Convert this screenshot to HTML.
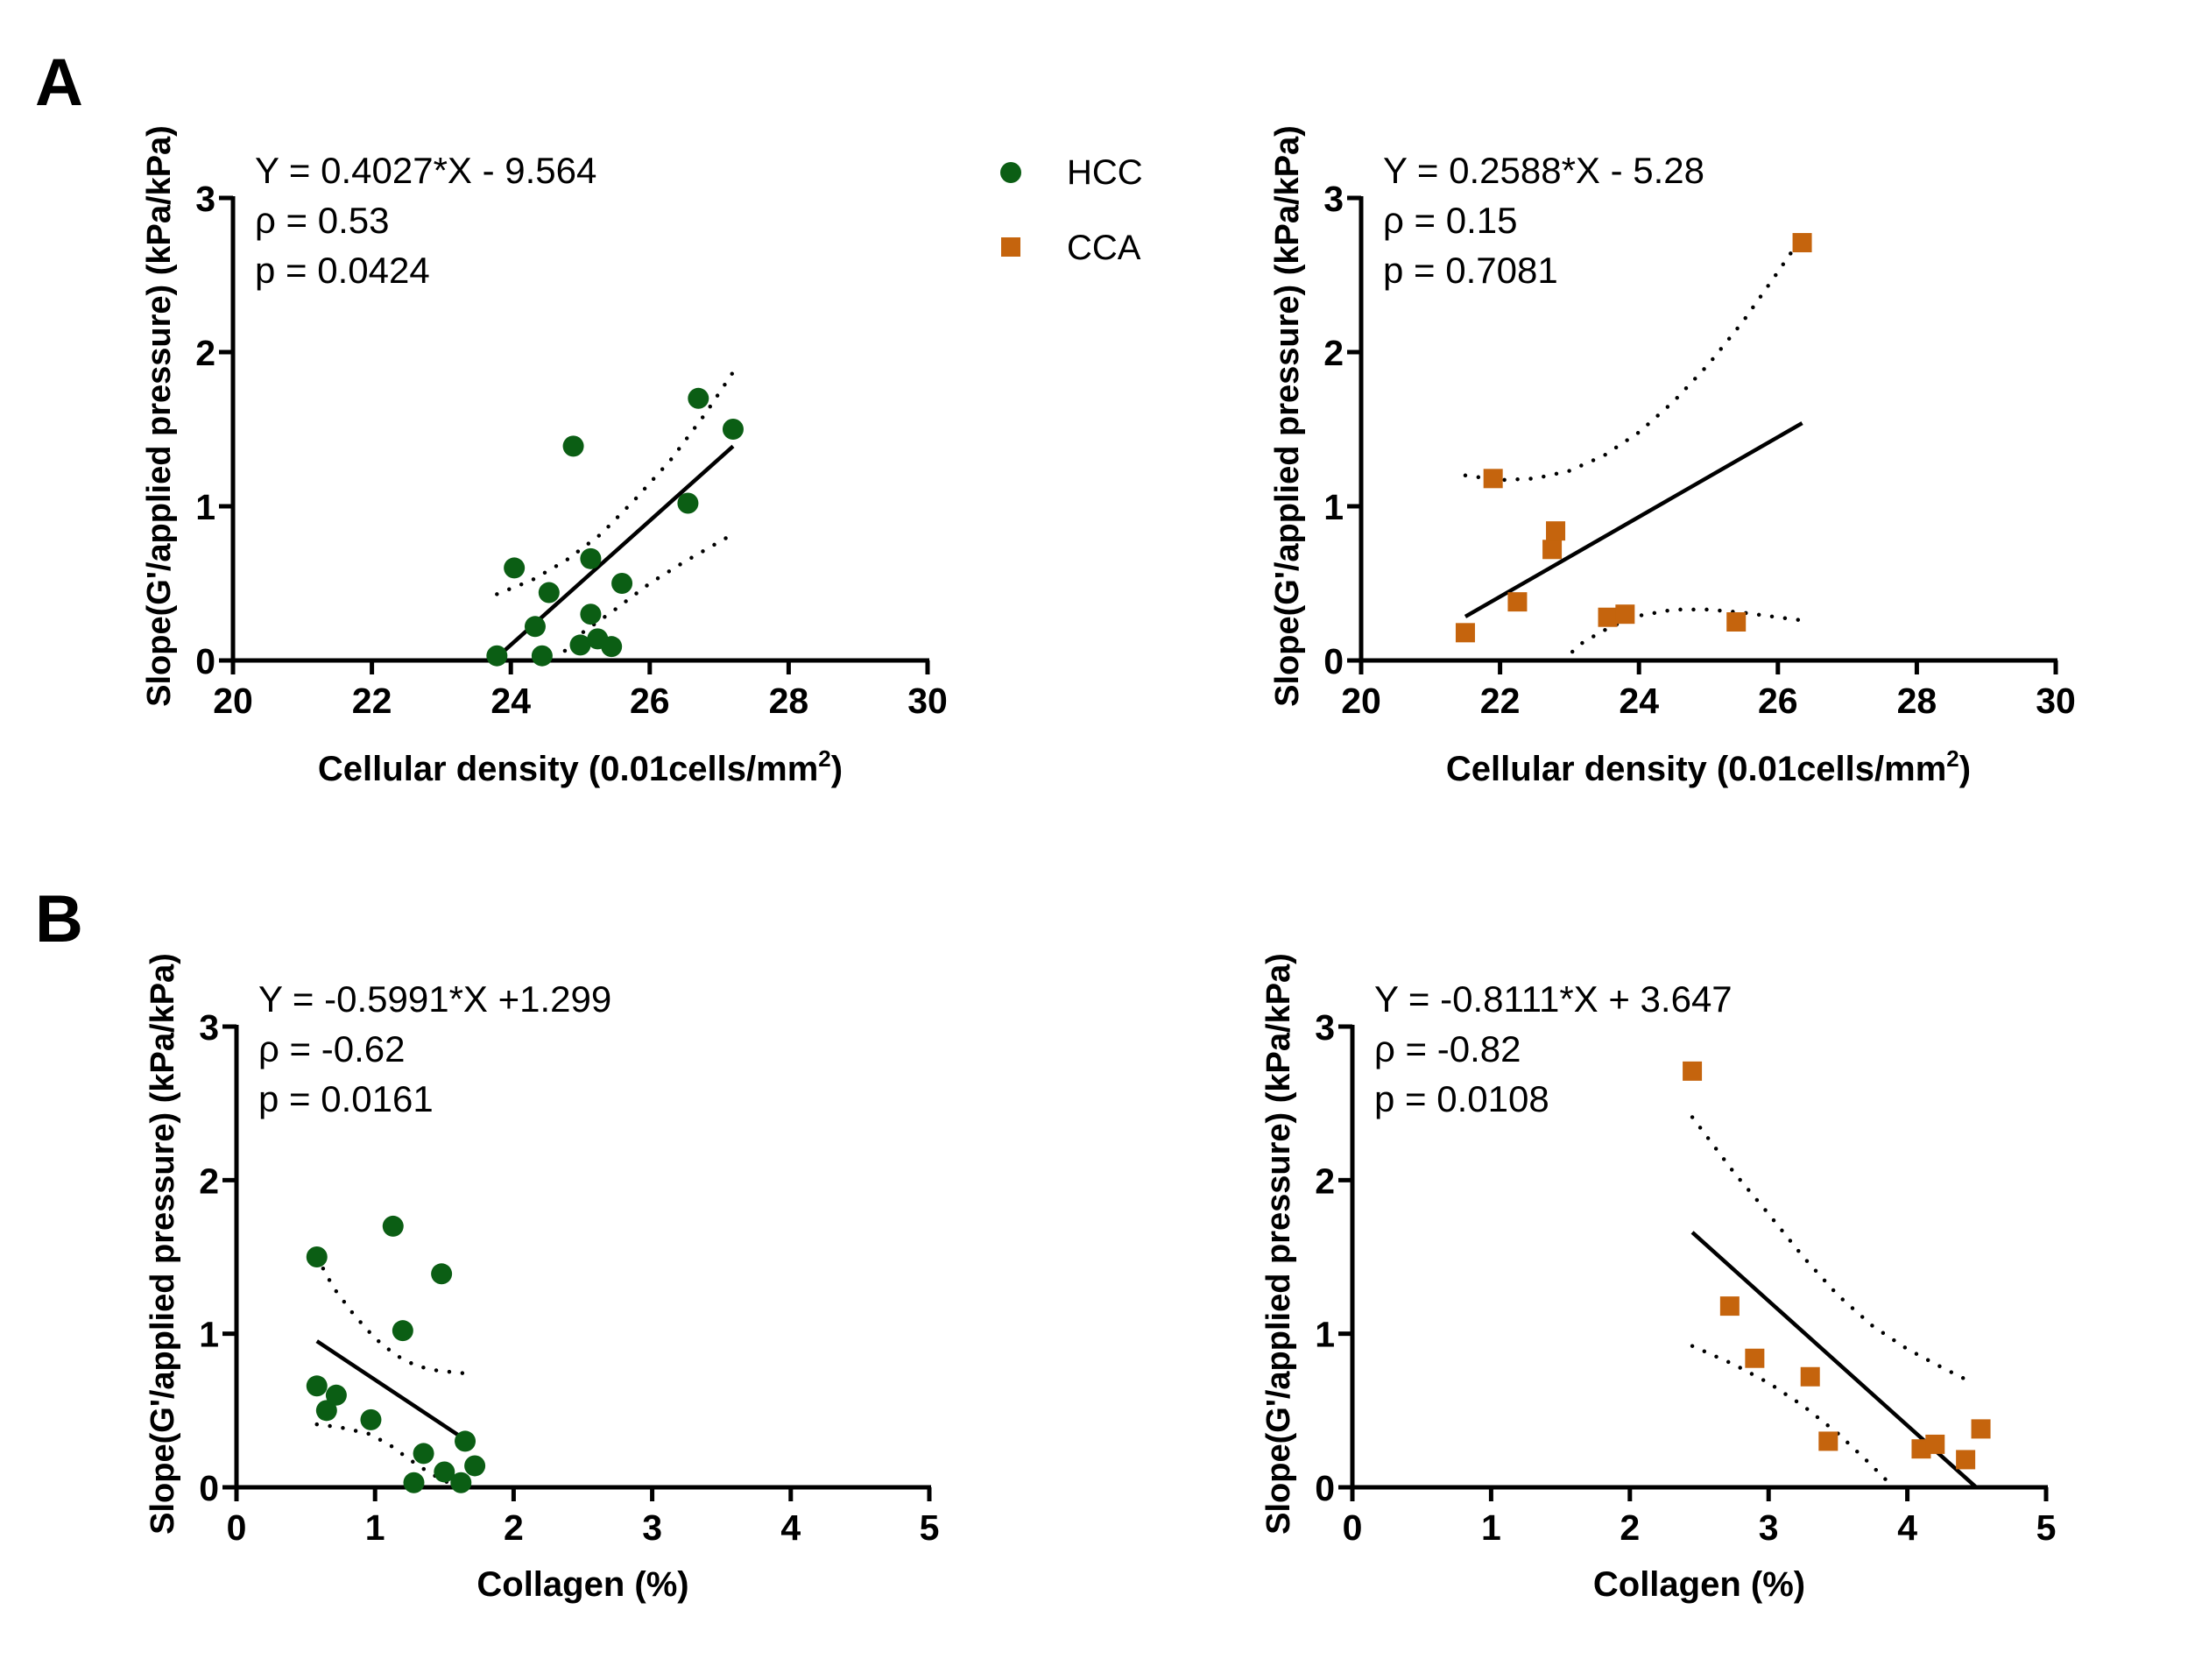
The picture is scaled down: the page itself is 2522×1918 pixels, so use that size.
<!DOCTYPE html>
<html><head><meta charset="utf-8"><style>
html,body{margin:0;padding:0;background:#fff;}
svg text{font-family:"Liberation Sans",Arial,sans-serif;}
</style></head><body>
<svg id="fig" width="2522" height="1913" viewBox="0 0 2522 1913" xmlns="http://www.w3.org/2000/svg">
<text x="40" y="120" font-size="76" font-weight="bold">A</text>
<text x="40" y="1075" font-size="76" font-weight="bold">B</text>
<g>
<circle cx="1154" cy="197" r="12" fill="#0b5e14"/>
<text x="1218" y="210" font-size="40">HCC</text>
<rect x="1143" y="271" width="22" height="22" fill="#c5640d"/>
<text x="1218" y="296" font-size="40">CCA</text>
</g>
</svg>
<script>
// ---- Data ----
const hccDensityX=[23.8,24.05,24.35,24.45,24.55,24.9,25.0,25.15,25.15,25.25,25.45,25.6,26.55,26.7,27.2];
const hccDensityY=[0.03,0.6,0.22,0.03,0.44,1.39,0.1,0.66,0.3,0.14,0.09,0.5,1.02,1.7,1.5];
const hccDensityUpperX=[23.8,24.3,24.8,25.3,25.8,26.3,26.8,27.2];
const hccDensityUpperY=[0.43,0.52,0.65,0.82,1.05,1.3,1.6,1.87];
const hccDensityLowerX=[24.65,25.0,25.5,26.0,26.5,27.2];
const hccDensityLowerY=[0.0,0.17,0.33,0.5,0.64,0.82];
const ccaDensityX=[21.5,21.9,22.25,22.75,22.8,23.55,23.8,25.4,26.35];
const ccaDensityY=[0.18,1.18,0.38,0.72,0.84,0.28,0.3,0.25,2.71];
const ccaDensityUpperX=[21.5,22.0,22.5,23.0,23.5,24.0,24.5,25.0,25.5,26.0,26.35];
const ccaDensityUpperY=[1.2,1.17,1.18,1.23,1.33,1.48,1.68,1.92,2.2,2.52,2.75];
const ccaDensityLowerX=[22.9,23.2,23.6,24.0,24.5,25.0,25.5,26.0,26.35];
const ccaDensityLowerY=[0.0,0.12,0.22,0.29,0.33,0.33,0.31,0.28,0.26];
const hccCollX=[0.58,0.58,0.65,0.72,0.97,1.13,1.2,1.28,1.35,1.48,1.5,1.62,1.65,1.72];
const hccCollY=[1.5,0.66,0.5,0.6,0.44,1.7,1.02,0.03,0.22,1.39,0.1,0.03,0.3,0.14];
const hccCollUpperX=[0.58,0.7,0.85,1.0,1.15,1.3,1.45,1.67];
const hccCollUpperY=[1.5,1.3,1.12,0.97,0.86,0.79,0.76,0.74];
const hccCollLowerX=[0.58,0.75,0.95,1.1,1.25,1.4,1.55];
const hccCollLowerY=[0.41,0.39,0.35,0.28,0.18,0.09,0.02];
const ccaCollX=[2.45,2.72,2.9,3.3,3.43,4.1,4.2,4.42,4.53];
const ccaCollY=[2.71,1.18,0.84,0.72,0.3,0.25,0.28,0.18,0.38];
const ccaCollUpperX=[2.45,2.75,3.0,3.25,3.5,3.75,4.0,4.25,4.47];
const ccaCollUpperY=[2.41,2.05,1.78,1.5,1.25,1.05,0.9,0.78,0.68];
const ccaCollLowerX=[2.45,2.75,3.0,3.25,3.5,3.7,3.9];
const ccaCollLowerY=[0.92,0.8,0.68,0.53,0.35,0.18,0.0];
const densityTicks=[20,22,24,26,28,30];
const collagenTicks=[0,1,2,3,4,5];
const yTicks=[0,1,2,3];

const NS="http://www.w3.org/2000/svg";
const svg=document.getElementById('fig');
function mk(tag,attrs,parent){const e=document.createElementNS(NS,tag);for(const k in attrs)e.setAttribute(k,attrs[k]);(parent||svg).appendChild(e);return e;}

function panel(o){
  const g=mk('g',{});
  
  
  const sx=v=>o.x0+(v-o.xmin)/(o.xmax-o.xmin)*(o.x1-o.x0);
  const sy=v=>o.y0-(v/3)*(o.y0-o.y1);
  const ya=mk('line',{x1:o.x0,y1:o.y1-2,x2:o.x0,y2:o.y0+2,stroke:'#000','stroke-width':5},g);
  
  
  const xa=mk('line',{x1:o.x0-2,y1:o.y0,x2:o.x1+2,y2:o.y0,stroke:'#000','stroke-width':5},g);
  
  
  o.xticks.forEach(t=>{
    mk('line',{x1:sx(t),y1:o.y0,x2:sx(t),y2:o.y0+16,stroke:'#000','stroke-width':5},g);
    const tx=mk('text',{x:sx(t),y:o.y0+60,'font-size':41,'font-weight':'bold','text-anchor':'middle'},g);
    tx.textContent=t;
    
    
  });
  yTicks.forEach(t=>{
    mk('line',{x1:o.x0-16,y1:sy(t),x2:o.x0,y2:sy(t),stroke:'#000','stroke-width':5},g);
    const tx=mk('text',{x:o.x0-20,y:sy(t)+15,'font-size':41,'font-weight':'bold','text-anchor':'end'},g);
    tx.textContent=t;
    
    
  });
  const yt=mk('text',{x:0,y:0,'font-size':38,'font-weight':'bold','text-anchor':'middle',transform:`translate(${o.x0-72},${(o.y0+o.y1)/2-15}) rotate(-90)`},g);
  yt.textContent="Slope(G'/applied pressure) (kPa/kPa)";
  
  
  const xt=mk('text',{x:(o.x0+o.x1)/2,y:o.y0+o.xtOff,'font-size':40,'font-weight':'bold','text-anchor':'middle'},g);
  xt.innerHTML=o.xtitle;
  
  
  o.stats.forEach((s,i)=>{
    const st=mk('text',{x:o.x0+25,y:o.y1-17+i*57,'font-size':42},g);
    st.textContent=s;
    
    
  });
  [[o.ux,o.uy,'ci-upper'],[o.lx,o.ly,'ci-lower']].forEach(([X,Y,n])=>{
    const p=mk('polyline',{points:X.map((v,i)=>sx(v)+','+sy(Y[i])).join(' '),fill:'none',stroke:'#000','stroke-width':4.5,'stroke-dasharray':'0 15','stroke-linecap':'round'},g);
    
    
  });
  const xa0=o.lineX[0],xa1=o.lineX[1];
  const rl=mk('line',{x1:sx(xa0),y1:sy(o.m*xa0+o.b),x2:sx(xa1),y2:sy(o.m*xa1+o.b),stroke:'#000','stroke-width':4.5},g);
  
  
  o.px.forEach((v,i)=>{
    let e;
    if(o.shape==='circle'){e=mk('circle',{cx:sx(v),cy:sy(o.py[i]),r:12,fill:'#0b5e14'},g);}
    else{e=mk('rect',{x:sx(v)-11,y:sy(o.py[i])-11,width:22,height:22,fill:'#c5640d'},g);}
    
    
  });
}
const dTitle='Cellular density (0.01cells/mm<tspan dy="-16" font-size="26">2</tspan><tspan dy="16">)</tspan>';
panel({name:'panel-a-hcc',x0:266,x1:1059,y0:754,y1:226,xmin:20,xmax:30,xticks:densityTicks,xtitle:dTitle,xtOff:137,
  stats:['Y = 0.4027*X - 9.564','ρ = 0.53','p = 0.0424'],ux:hccDensityUpperX,uy:hccDensityUpperY,lx:hccDensityLowerX,ly:hccDensityLowerY,
  m:0.4027,b:-9.564,lineX:[23.8,27.2],px:hccDensityX,py:hccDensityY,shape:'circle'});
panel({name:'panel-a-cca',x0:1554,x1:2347,y0:754,y1:226,xmin:20,xmax:30,xticks:densityTicks,xtitle:dTitle,xtOff:137,
  stats:['Y = 0.2588*X - 5.28','ρ = 0.15','p = 0.7081'],ux:ccaDensityUpperX,uy:ccaDensityUpperY,lx:ccaDensityLowerX,ly:ccaDensityLowerY,
  m:0.2588,b:-5.28,lineX:[21.5,26.35],px:ccaDensityX,py:ccaDensityY,shape:'square'});
panel({name:'panel-b-hcc',x0:270,x1:1061,y0:1698,y1:1172,xmin:0,xmax:5,xticks:collagenTicks,xtitle:'Collagen (%)',xtOff:124,
  stats:['Y = -0.5991*X +1.299','ρ = -0.62','p = 0.0161'],ux:hccCollUpperX,uy:hccCollUpperY,lx:hccCollLowerX,ly:hccCollLowerY,
  m:-0.5991,b:1.299,lineX:[0.58,1.67],px:hccCollX,py:hccCollY,shape:'circle'});
panel({name:'panel-b-cca',x0:1544,x1:2336,y0:1698,y1:1172,xmin:0,xmax:5,xticks:collagenTicks,xtitle:'Collagen (%)',xtOff:124,
  stats:['Y = -0.8111*X + 3.647','ρ = -0.82','p = 0.0108'],ux:ccaCollUpperX,uy:ccaCollUpperY,lx:ccaCollLowerX,ly:ccaCollLowerY,
  m:-0.8111,b:3.647,lineX:[2.45,4.497],px:ccaCollX,py:ccaCollY,shape:'square'});
</script>
</body></html>
